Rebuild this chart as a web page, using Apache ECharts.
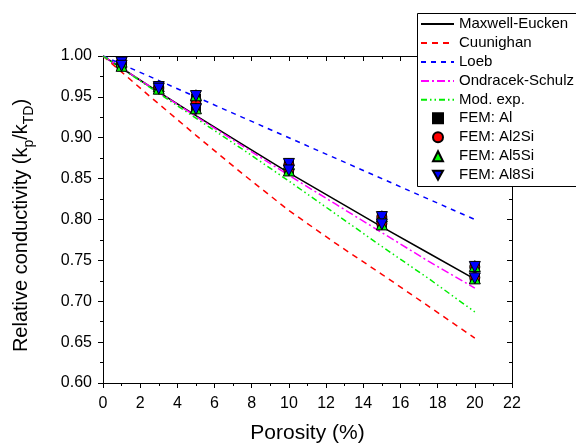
<!DOCTYPE html>
<html>
<head>
<meta charset="utf-8">
<script src="https://cdn.jsdelivr.net/npm/echarts@6/dist/echarts.min.js"></script>
<style>
  html, body { margin: 0; padding: 0; background: #fff; }
  #chart { width: 576px; height: 444px; }
</style>
</head>
<body>
<div id="chart"></div>
<script>
// Porosity (%) at which the analytical models are evaluated
const modelPorosity = [0, 2.5, 5, 7.5, 10, 12.5, 15, 17.5, 20];

// Relative conductivity predicted by each model
const maxwellEucken   = [1.000, 0.963, 0.927, 0.892, 0.857, 0.824, 0.791, 0.759, 0.727];
const cuunighan       = [1.000, 0.951, 0.903, 0.856, 0.811, 0.771, 0.733, 0.694, 0.655];
const loeb            = [1.000, 0.975, 0.950, 0.925, 0.900, 0.875, 0.850, 0.825, 0.800];
const ondracekSchulz  = [1.000, 0.963, 0.926, 0.890, 0.854, 0.819, 0.784, 0.749, 0.716];
const modExp          = [1.000, 0.962, 0.924, 0.886, 0.847, 0.807, 0.767, 0.728, 0.687];

// FEM results: two microstructures per porosity level
const femPorosity = [1, 3, 5, 10, 15, 20];
const femAl    = [[0.993, 0.989], [0.963, 0.960], [0.948, 0.937], [0.868, 0.861], [0.803, 0.794], [0.742, 0.728]];
const femAl2Si = [[0.992, 0.989], [0.962, 0.960], [0.946, 0.941], [0.867, 0.861], [0.803, 0.795], [0.742, 0.729]];
const femAl5Si = [[0.993, 0.988], [0.963, 0.960], [0.952, 0.936], [0.868, 0.860], [0.804, 0.794], [0.743, 0.728]];
const femAl8Si = [[0.992, 0.988], [0.962, 0.960], [0.951, 0.935], [0.868, 0.860], [0.803, 0.794], [0.742, 0.728]];

// Legend entries
const modelNames = ['Maxwell-Eucken', 'Cuunighan', 'Loeb', 'Ondracek-Schulz', 'Mod. exp.'];
const femNames = ['FEM: Al', 'FEM: Al2Si', 'FEM: Al5Si', 'FEM: Al8Si'];

// Axis ranges and tick steps
const xTicks = { min: 0, max: 22, interval: 2 };
const yTicks = { min: 0.60, max: 1.00, interval: 0.05 };

const FONT = 'Liberation Sans, Arial, sans-serif';

function modelLine(values) {
  return modelPorosity.map((p, i) => [p, values[i]]);
}
function femPoints(pairs) {
  const pts = [];
  femPorosity.forEach((p, i) => pairs[i].forEach(v => pts.push([p, v])));
  return pts;
}

function lineSeries(name, values, color, dash, width) {
  return {
    name, type: 'line', data: modelLine(values),
    symbol: 'none', smooth: false,
    lineStyle: { color, width, type: dash },
    itemStyle: { color },
    z: 2
  };
}
function scatterSeries(name, pairs, color, symbol, size) {
  return {
    name, type: 'scatter', data: femPoints(pairs),
    symbol, symbolSize: size,
    itemStyle: { color, borderColor: '#000', borderWidth: 1, opacity: 1 },
    z: 3
  };
}

const TRI_DOWN = 'path://M0,0 L10,0 L5,9 Z';

const chart = echarts.init(document.getElementById('chart'), null, { renderer: 'canvas' });

const axisCommon = {
  axisLine: { show: true, onZero: false, lineStyle: { color: '#000', width: 1 } },
  splitLine: { show: false }
};

const legendText = { fontFamily: FONT, fontSize: 15, color: '#000' };

chart.setOption({
  animation: false,
  backgroundColor: '#fff',
  textStyle: { fontFamily: FONT },
  grid: {
    left: 103, right: 64, top: 56, bottom: 61,
    containLabel: false, outerBoundsMode: 'none'
  },
  // legend frame, running past the right edge of the canvas
  graphic: [{
    type: 'rect', z: 10,
    shape: { x: 417.5, y: 13.5, width: 220, height: 173 },
    style: { fill: '#fff', stroke: '#000', lineWidth: 1 }
  }],
  legend: [
    {
      orient: 'vertical', left: 420, top: 16.5, padding: 0, z: 20,
      itemWidth: 33, itemHeight: 14, itemGap: 3.96,
      textStyle: legendText,
      data: modelNames.map(name => ({ name, itemStyle: { opacity: 0 } }))
    },
    {
      orient: 'vertical', left: 432, top: 110.8, padding: 0, z: 20,
      itemWidth: 10, itemHeight: 10, itemGap: 3.96,
      textStyle: Object.assign({ padding: [0, 0, 0, 11] }, legendText),
      data: femNames
    }
  ],
  xAxis: [
    Object.assign({}, axisCommon, {
      type: 'value', position: 'bottom',
      min: xTicks.min, max: xTicks.max, interval: xTicks.interval,
      name: 'Porosity (%)', nameLocation: 'middle', nameGap: 40,
      nameTextStyle: { fontFamily: FONT, fontSize: 21, color: '#000' },
      axisTick: { show: true, inside: false, length: 5, lineStyle: { color: '#000' } },
      minorTick: { show: true, splitNumber: 2, length: 3, lineStyle: { color: '#000' } },
      axisLabel: { fontFamily: FONT, fontSize: 16, color: '#000', margin: 13 }
    }),
    Object.assign({}, axisCommon, {
      type: 'value', position: 'top',
      min: xTicks.min, max: xTicks.max, interval: xTicks.interval,
      axisTick: { show: true, inside: true, length: 5, lineStyle: { color: '#000' } },
      minorTick: { show: true, splitNumber: 2, length: 3, lineStyle: { color: '#000' } },
      axisLabel: { show: false }
    })
  ],
  yAxis: [
    Object.assign({}, axisCommon, {
      type: 'value', position: 'left',
      min: yTicks.min, max: yTicks.max, interval: yTicks.interval,
      name: '{m|Relative conductivity (k}{s|p}{m|/k}{s|TD}{m|)}',
      nameLocation: 'middle', nameGap: 72, nameRotate: 90,
      nameTextStyle: {
        fontFamily: FONT, fontSize: 20, color: '#000',
        padding: [0, 12, 0, 0],
        rich: {
          m: { fontFamily: FONT, fontSize: 20, color: '#000', verticalAlign: 'bottom' },
          s: { fontFamily: FONT, fontSize: 14, color: '#000', verticalAlign: 'bottom', padding: [0, 0, -5, 0] }
        }
      },
      axisTick: { show: true, inside: false, length: 5, lineStyle: { color: '#000' } },
      minorTick: { show: true, splitNumber: 2, length: 3, lineStyle: { color: '#000' } },
      axisLabel: {
        fontFamily: FONT, fontSize: 16, color: '#000', margin: 11,
        formatter: v => v.toFixed(2)
      }
    }),
    Object.assign({}, axisCommon, {
      type: 'value', position: 'right',
      min: yTicks.min, max: yTicks.max, interval: yTicks.interval,
      axisTick: { show: true, inside: true, length: 5, lineStyle: { color: '#000' } },
      minorTick: { show: true, splitNumber: 2, length: 3, lineStyle: { color: '#000' } },
      axisLabel: { show: false }
    })
  ],
  series: [
    lineSeries('Maxwell-Eucken', maxwellEucken, '#000000', 'solid', 1.5),
    lineSeries('Cuunighan', cuunighan, '#ff0000', [6, 5], 1.5),
    lineSeries('Loeb', loeb, '#0000ff', [5, 5], 1.5),
    lineSeries('Ondracek-Schulz', ondracekSchulz, '#ff00ff', [8, 3, 2, 3], 1.5),
    lineSeries('Mod. exp.', modExp, '#00ee00', [6, 3, 1.5, 3, 1.5, 3], 1.5),
    scatterSeries('FEM: Al', femAl, '#000000', 'rect', 9),
    scatterSeries('FEM: Al2Si', femAl2Si, '#ff0000', 'circle', 10),
    scatterSeries('FEM: Al5Si', femAl5Si, '#00ff00', 'triangle', 11),
    scatterSeries('FEM: Al8Si', femAl8Si, '#0000ff', TRI_DOWN, 11)
  ]
});
</script>
</body>
</html>
